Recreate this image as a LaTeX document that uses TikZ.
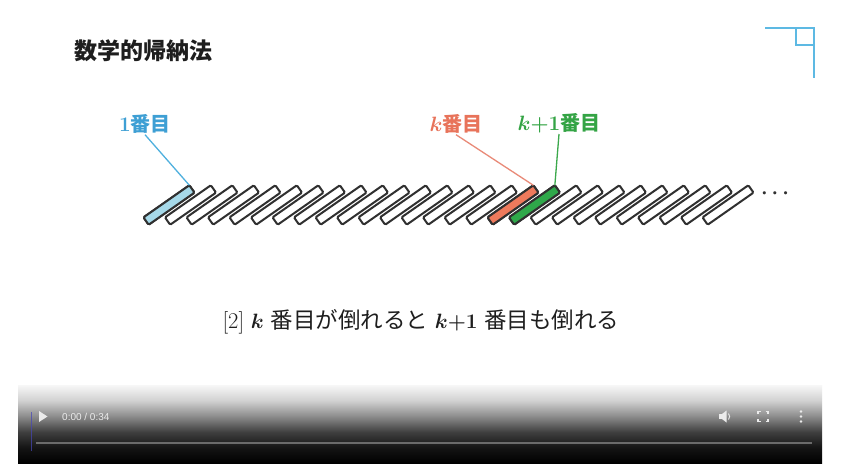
\documentclass[tikz,border=0pt]{standalone}
\usepackage{fontspec}
\newfontfamily\jp{Noto Sans CJK JP}
\newfontfamily\uisans{Liberation Sans}
\usetikzlibrary{calc}

\definecolor{dominoline}{HTML}{303030}
\definecolor{firstfill}{HTML}{A6D9E9}
\definecolor{kfill}{HTML}{EE7A5C}
\definecolor{konefill}{HTML}{2FA84A}
\definecolor{firsttext}{HTML}{3E9FD4}
\definecolor{firstline}{HTML}{4FB0DE}
\definecolor{ktext}{HTML}{E8735A}
\definecolor{kline}{HTML}{E98A78}
\definecolor{konetext}{HTML}{34A445}
\definecolor{koneline}{HTML}{3BA84B}
\definecolor{iconblue}{HTML}{5DB9E3}
\definecolor{inktext}{HTML}{1E1E1E}
\definecolor{uiwhite}{HTML}{EBEBEB}

% dark fade of the player control bar (25bp = bottom edge, 75bp = top edge)
\pgfdeclareverticalshading{barfade}{100bp}{%
  color(0bp)=(black); color(25bp)=(black); color(35bp)=(black!92);
  color(45bp)=(black!75); color(55bp)=(black!45); color(65bp)=(black!18);
  color(75bp)=(black!3); color(100bp)=(black!3)}

\begin{document}
\begin{tikzpicture}[x=1pt,y=-1pt,
  domino/.style={rectangle, draw=dominoline, fill=white, line width=2pt,
    rounded corners=1.2pt, minimum width=56pt, minimum height=9pt,
    inner sep=0pt, outer sep=0pt, rotate=35},
  tag/.style={inner sep=1pt, font=\fontsize{20}{20}\selectfont},
  leader/.style={line width=1.3pt},
  uitext/.style={text=uiwhite, font=\uisans\fontsize{10}{10}\selectfont, inner sep=0pt}]

\useasboundingbox (0,0) rectangle (845,463);
\fill[white] (0,0) rectangle (845,463);

% title
\node[text=inktext, font=\fontsize{23}{23}\selectfont\jp\bfseries] (title) at (143,51) {数学的帰納法};

% corner mark
\draw[iconblue, line width=2pt] (765,28) -- (814,28) -- (814,78);
\draw[iconblue, line width=2pt] (796,28) -- (796,45) -- (814,45);

% row of fallen dominoes
\foreach \i in {1,...,27}
  \node[domino] (d\i) at ({169+(\i-1)*21.5},205) {};
\node[domino, fill=firstfill] at (d1) {};
\node[domino, fill=kfill] at (d17) {};
\node[domino, fill=konefill] at (d18) {};
\node[text=dominoline, inner sep=0pt, font=\fontsize{21}{21}\selectfont] (dots) at (775,194) {{\boldmath$\cdots$}};

% labels and their leaders
\node[tag, text=firsttext] (l1) at (145,124) {{\boldmath$1$}{\jp\bfseries 番目}};
\node[tag, text=ktext] (lk) at (456,124) {{\boldmath$k$}{\jp\bfseries 番目}};
\node[tag, text=konetext] (lk1) at (559,123) {{\boldmath$k{+}1$}{\jp\bfseries 番目}};
\draw[leader, firstline] (l1.south) -- (d1.north east);
\draw[leader, kline] (lk.south) -- (d17.north east);
\draw[leader, koneline] (lk1.south) -- (d18.north east);

% caption
\node[text=inktext, font=\fontsize{22.5}{22.5}\selectfont] (caption) at (421,322)
  {[2] {\boldmath$k$} {\jp 番目が倒れると} {\boldmath$k{+}1$} {\jp 番目も倒れる}};

% player control bar
\shade[shading=barfade] (18,385) rectangle (822,463);
\draw[blue!45!gray, line width=0.8pt, opacity=0.7] (31,412) -- (31,451);
\draw[black!58, line width=2pt] (36,443) -- (812,443);
\fill[uiwhite] (39,411) -- (39,422) -- (47.5,416.5) -- cycle;
\node[uitext, anchor=west] (time) at (62,416.5) {0:00 / 0:34};
% volume
\fill[uiwhite] (719,414) rectangle (722,419);
\fill[uiwhite] (722,414) -- (726.5,410.5) -- (726.5,422.5) -- (722,419) -- cycle;
\draw[uiwhite, line width=0.9pt] (728.5,413.5) to[bend left=40] (728.5,419.5);
% full screen
\draw[uiwhite, line width=1.2pt]
  (758,414) -- (758,411.5) -- (760.5,411.5)
  (765.5,411.5) -- (768,411.5) -- (768,414)
  (768,419) -- (768,421.5) -- (765.5,421.5)
  (760.5,421.5) -- (758,421.5) -- (758,419);
% menu
\fill[uiwhite] (801,411.5) circle[radius=1.3pt];
\fill[uiwhite] (801,416.5) circle[radius=1.3pt];
\fill[uiwhite] (801,421.5) circle[radius=1.3pt];
\end{tikzpicture}
\end{document}
